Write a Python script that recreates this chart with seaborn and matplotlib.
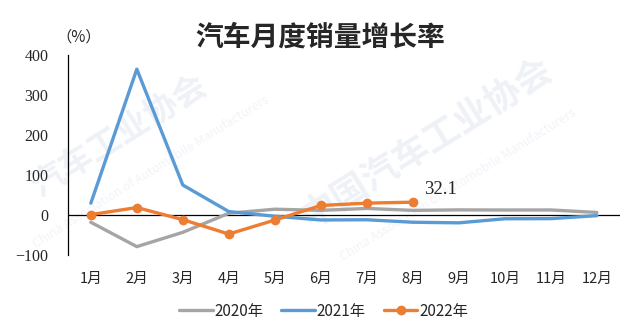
import matplotlib
matplotlib.use("Agg")
import matplotlib.pyplot as plt
import seaborn as sns
import pandas as pd

months = ["1月", "2月", "3月", "4月", "5月", "6月", "7月", "8月", "9月", "10月", "11月", "12月"]
growth_2020 = [-18.1, -79.1, -43.3, 4.4, 14.5, 11.6, 16.4, 11.6, 12.8, 12.5, 12.6, 6.4]
growth_2021 = [29.5, 364.8, 74.9, 8.6, -3.1, -12.4, -11.9, -18.1, -19.6, -9.4, -9.1, -1.6]
growth_2022 = [0.9, 18.7, -11.7, -47.6, -12.6, 23.8, 29.7, 32.1]
yticks = [-100, 0, 100, 200, 300, 400]

sns.set_theme(style="white")
plt.rcParams["font.family"] = ["Noto Sans CJK SC", "DejaVu Sans"]

rows = []
for label, vals in (("2020年", growth_2020), ("2021年", growth_2021), ("2022年", growth_2022)):
    for i, v in enumerate(vals):
        rows.append({"month": i, "value": v, "year": label})
df = pd.DataFrame(rows)

fig = plt.figure(figsize=(6.28, 3.24), dpi=100)
ax = fig.add_axes([0.108, 0.213, 0.879, 0.617])
ax.set_zorder(1)

# faint association watermark, kept behind the plot
wm = dict(color="#EEF2F7", fontweight="bold", rotation=32, ha="center", va="center", zorder=0)
fig.text(0.19, 0.58, "汽车工业协会", fontsize=24, **wm)
fig.text(0.68, 0.56, "中国汽车工业协会", fontsize=26, **wm)
sub = dict(color="#F1F4F8", rotation=32, ha="center", va="center", zorder=0, fontsize=9)
fig.text(0.24, 0.47, "China Association of Automobile Manufacturers", **sub)
fig.text(0.73, 0.43, "China Association of Automobile Manufacturers", **sub)

palette = {"2020年": "#A5A5A5", "2021年": "#5B9BD5", "2022年": "#ED7D31"}
sns.lineplot(data=df[df.year != "2022年"], x="month", y="value", hue="year",
             palette=palette, linewidth=2.4, ax=ax, legend=False, zorder=3)
sns.lineplot(data=df[df.year == "2022年"], x="month", y="value", color=palette["2022年"],
             linewidth=2.4, marker="o", markersize=7, markeredgewidth=0, ax=ax,
             legend=False, zorder=4)

ax.axhline(0, color="black", linewidth=0.9, zorder=2)
ax.set_xlim(-0.5, 11.5)
ax.set_ylim(-100, 400)
ax.set_yticks(yticks)
ax.set_yticklabels([f"{t:d}".replace("-", "−") for t in yticks],
                   fontfamily="Liberation Serif", fontsize=11.5)
ax.set_xticks(range(12))
ax.set_xticklabels(months, fontsize=10.5)
ax.tick_params(axis="both", length=0)
ax.tick_params(axis="x", pad=12)
ax.tick_params(axis="y", pad=14)
ax.set_xlabel("")
ax.set_ylabel("")
for s in ("top", "right", "bottom"):
    ax.spines[s].set_visible(False)
ax.spines["left"].set_color("black")
ax.spines["left"].set_linewidth(0.9)
ax.patch.set_alpha(0)

last = len(growth_2022) - 1
ax.annotate(f"{growth_2022[last]:.1f}", (last, growth_2022[last]), xytext=(8, 3),
            textcoords="offset points", fontsize=13.5, fontfamily="Liberation Serif",
            ha="left", va="bottom")

fig.text(0.51, 0.885, "汽车月度销量增长率", fontsize=20, fontweight="bold", ha="center", va="center")
fig.text(0.125, 0.885, "（%）", fontsize=11, ha="center", va="center")

handles = [
    plt.Line2D([], [], color=palette["2020年"], linewidth=2.4),
    plt.Line2D([], [], color=palette["2021年"], linewidth=2.4),
    plt.Line2D([], [], color=palette["2022年"], linewidth=2.4, marker="o", markersize=6),
]
fig.legend(handles, ["2020年", "2021年", "2022年"], loc="center", bbox_to_anchor=(0.515, 0.04),
           ncol=3, frameon=False, fontsize=11, handlelength=2.2, handletextpad=0.1,
           columnspacing=1.2)

fig.savefig("out.png", dpi=100)
